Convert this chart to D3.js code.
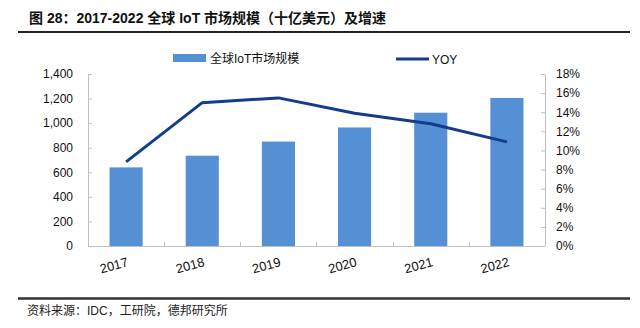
<!DOCTYPE html>
<html>
<head>
<meta charset="utf-8">
<script src="https://cdn.jsdelivr.net/npm/d3@7"></script>
<style>
  body { margin: 0; background: #fff; }
  svg { display: block; font-family: "Liberation Sans", Arial, "Noto Sans CJK SC", sans-serif; }
</style>
</head>
<body>
<svg id="chart" width="640" height="328"></svg>
<script>
const categories = ['2017', '2018', '2019', '2020', '2021', '2022'];
const marketSize = [640, 735, 850, 965, 1085, 1205];   // 十亿美元
const yoy = [8.8, 15.0, 15.5, 13.9, 12.8, 10.9];          // %
const leftTicks = [0, 200, 400, 600, 800, 1000, 1200, 1400];
const rightTicks = [0, 2, 4, 6, 8, 10, 12, 14, 16, 18];

const barColor = '#5590d5';
const lineColor = '#133b8e';
const axisColor = '#bfbfbf';

const svg = d3.select('#chart');
const plot = { left: 88, right: 545, top: 74, bottom: 246 };

// title + rules
svg.append('text')
    .attr('x', 29).attr('y', 23)
    .attr('font-size', '14px').attr('font-weight', 'bold').attr('fill', '#111')
    .text('图 28：2017-2022 全球 IoT 市场规模（十亿美元）及增速');

svg.append('line')
    .attr('x1', 18).attr('x2', 630).attr('y1', 32).attr('y2', 32)
    .attr('stroke', '#222').attr('stroke-width', 2);

svg.append('line')
    .attr('x1', 18).attr('x2', 630).attr('y1', 298.5).attr('y2', 298.5)
    .attr('stroke', '#333').attr('stroke-width', 2.5);

svg.append('text')
    .attr('x', 27).attr('y', 315)
    .attr('font-size', '12px').attr('fill', '#222')
    .text('资料来源：IDC，工研院，德邦研究所');

// scales
const x = d3.scaleBand()
    .domain(categories)
    .range([plot.left, plot.right])
    .paddingInner(0.565)
    .paddingOuter(0.2825);

const yLeft = d3.scaleLinear().domain([0, 1400]).range([plot.bottom, plot.top]);
const yRight = d3.scaleLinear().domain([0, 18]).range([plot.bottom, plot.top]);

// bars
svg.selectAll('.bar')
    .data(categories)
    .enter()
    .append('rect')
    .attr('class', 'bar')
    .attr('x', d => x(d))
    .attr('y', (d, i) => yLeft(marketSize[i]))
    .attr('width', x.bandwidth())
    .attr('height', (d, i) => yLeft(0) - yLeft(marketSize[i]))
    .attr('fill', barColor);

// axes
const leftAxis = svg.append('g')
    .attr('transform', `translate(${plot.left},0)`)
    .call(d3.axisLeft(yLeft).tickValues(leftTicks).tickFormat(d3.format(','))
        .tickSizeInner(-4).tickSizeOuter(0).tickPadding(15));

const rightAxis = svg.append('g')
    .attr('transform', `translate(${plot.right},0)`)
    .call(d3.axisRight(yRight).tickValues(rightTicks).tickFormat(d => d + '%')
        .tickSizeInner(-4).tickSizeOuter(0).tickPadding(11));

[leftAxis, rightAxis].forEach(g => {
    g.selectAll('path, line').attr('stroke', axisColor);
    g.selectAll('text').attr('font-size', '12px').attr('fill', '#111')
        .attr('font-family', '"Liberation Sans", Arial, sans-serif');
});

// bottom axis line + separators between categories
svg.append('line')
    .attr('x1', plot.left).attr('x2', plot.right)
    .attr('y1', plot.bottom + 0.5).attr('y2', plot.bottom + 0.5)
    .attr('stroke', axisColor);

const gap = (x.step() - x.bandwidth()) / 2;
svg.selectAll('.sep')
    .data(categories.slice(1))
    .enter()
    .append('line')
    .attr('x1', d => Math.round(x(d) - gap) + 0.5)
    .attr('x2', d => Math.round(x(d) - gap) + 0.5)
    .attr('y1', plot.bottom - 4).attr('y2', plot.bottom)
    .attr('stroke', axisColor);

svg.selectAll('.cat')
    .data(categories)
    .enter()
    .append('text')
    .attr('class', 'cat')
    .attr('text-anchor', 'end')
    .attr('font-size', '13px').attr('fill', '#111')
    .attr('transform', d => `translate(${x(d) + x.bandwidth() / 2 + 3},266) rotate(-15)`)
    .text(d => d);

// YOY line
const line = d3.line()
    .x((d, i) => x(categories[i]) + x.bandwidth() / 2)
    .y(d => yRight(d));

svg.append('path')
    .datum(yoy)
    .attr('fill', 'none')
    .attr('stroke', lineColor)
    .attr('stroke-width', 3)
    .attr('stroke-linejoin', 'round')
    .attr('d', line);

// legend
svg.append('rect')
    .attr('x', 173).attr('y', 54).attr('width', 33).attr('height', 8)
    .attr('fill', barColor);
svg.append('text')
    .attr('x', 210).attr('y', 63)
    .attr('font-size', '12px').attr('fill', '#111')
    .text('全球IoT市场规模');

svg.append('line')
    .attr('x1', 396).attr('x2', 429).attr('y1', 59).attr('y2', 59)
    .attr('stroke', lineColor).attr('stroke-width', 3);
svg.append('text')
    .attr('x', 432).attr('y', 63.5)
    .attr('font-size', '12px').attr('fill', '#111')
    .text('YOY');
</script>
</body>
</html>
